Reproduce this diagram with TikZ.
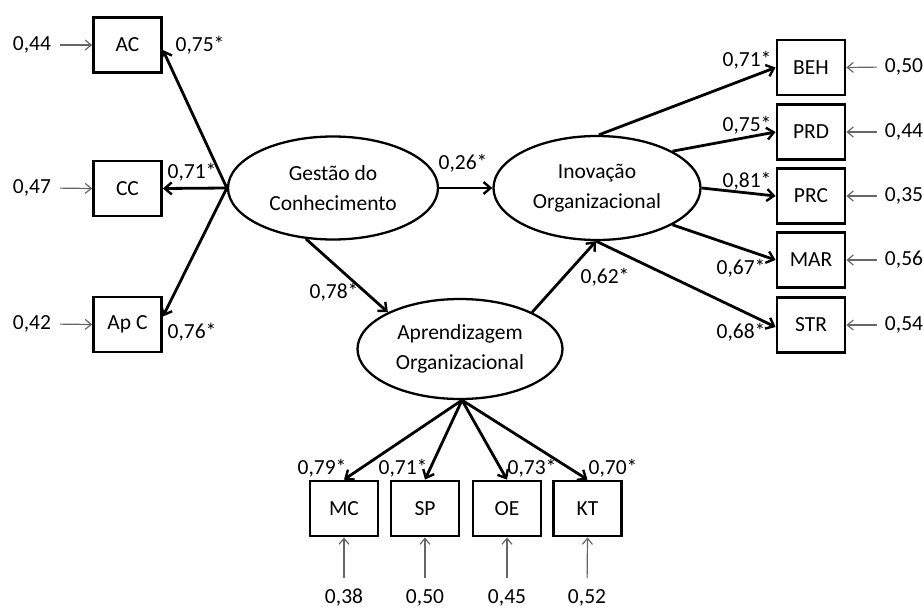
\documentclass[tikz,border=0pt]{standalone}
\usepackage{fontspec}
\setmainfont{Carlito}
\usetikzlibrary{shapes.geometric,arrows.meta}
\begin{document}
\begin{tikzpicture}[x=1pt,y=-1pt,
  font=\fontsize{21.5}{30}\selectfont,
  indicator/.style={draw,line width=2.8pt,minimum width=68pt,minimum height=55pt,inner sep=0pt},
  construct/.style={draw,ellipse,line width=2.3pt,inner sep=0pt,align=center},
  loading/.style={line width=2.8pt,-{Straight Barb[length=7pt,width=12pt,line width=2.4pt]}},
  residual/.style={line width=1.2pt,black!60,-{Straight Barb[length=6pt,width=10pt,line width=1.2pt]}},
  val/.style={inner sep=0pt,anchor=center}]
\useasboundingbox (0,0) rectangle (924,608);

% latent constructs
\node[construct,minimum width=210pt,minimum height=103pt] (gc) at (333,188) {Gestão do\\Conhecimento};
\node[construct,minimum width=207pt,minimum height=104pt] (io) at (597,188) {Inovação\\Organizacional};
\node[construct,minimum width=205pt,minimum height=100pt] (ap) at (460,349) {Aprendizagem\\Organizacional};

% indicators
\node[indicator] (ac) at (127.5,45) {AC};
\node[indicator] (cc) at (127.5,188.5) {CC};
\node[indicator] (apc) at (127.5,324.5) {Ap C};
\node[indicator] (beh) at (811,67.5) {BEH};
\node[indicator] (prd) at (811,132) {PRD};
\node[indicator] (prc) at (811,196) {PRC};
\node[indicator] (mar) at (811,260) {MAR};
\node[indicator] (str) at (811,325) {STR};
\node[indicator] (mc) at (344,508.5) {MC};
\node[indicator] (sp) at (425,508.5) {SP};
\node[indicator] (oe) at (507,508.5) {OE};
\node[indicator] (kt) at (587.5,508.5) {KT};

% residual values
\node[val] (eac) at (32,45) {0,44};
\node[val] (ecc) at (32,188) {0,47};
\node[val] (eapc) at (32,324) {0,42};
\node[val] (ebeh) at (904,67) {0,50};
\node[val] (eprd) at (904,132) {0,44};
\node[val] (eprc) at (904,196) {0,35};
\node[val] (emar) at (904,260) {0,56};
\node[val] (estr) at (904,325) {0,54};
\node[val] (emc) at (344,598) {0,38};
\node[val] (esp) at (425,598) {0,50};
\node[val] (eoe) at (507,598) {0,45};
\node[val] (ekt) at (587,598) {0,52};

\foreach \e/\b in {eac/ac,ecc/cc,eapc/apc}
  \draw[residual,shorten <=9pt] (\e.east) -- (\b.west);
\foreach \e/\b in {ebeh/beh,eprd/prd,eprc/prc,emar/mar,estr/str}
  \draw[residual,shorten <=8pt] (\e.west) -- (\b.east);
\foreach \e/\b in {emc/mc,esp/sp,eoe/oe,ekt/kt}
  \draw[residual,shorten <=11pt] (\e.north) -- (\b.south);

% structural paths
\draw[loading] (gc.east) -- (io.west);
\draw[loading] (gc.-118) -- (ap.153);
\draw[loading] (ap.27) -- (io.-91);

% measurement paths
\draw[loading] (gc.west) -- ([yshift=-5pt]ac.east);
\draw[loading] (gc.west) -- (cc.east);
\draw[loading] (gc.west) -- ([yshift=8pt]apc.east);
\draw[loading] (io.88) -- (beh.west);
\draw[loading] (io.26) -- (prd.west);
\draw[loading] (io.east) -- (prc.west);
\draw[loading] (io.-26) -- (mar.west);
\draw[loading] (io.-91) -- ([yshift=-2pt]str.west);
\foreach \b in {mc,sp,oe,kt}
  \draw[loading] ([xshift=2pt]ap.south) -- (\b.north);

% coefficients
\node[val] at (200,45) {0,75*};
\node[val] at (192,172) {0,71*};
\node[val] at (192,332) {0,76*};
\node[val] at (463,163) {0,26*};
\node[val] at (334,292) {0,78*};
\node[val] at (605,277) {0,62*};
\node[val] at (747,60) {0,71*};
\node[val] at (747,125) {0,75*};
\node[val] at (747,181) {0,81*};
\node[val] at (741,268) {0,67*};
\node[val] at (741,332) {0,68*};
\node[val] at (322,468) {0,79*};
\node[val] at (403,468) {0,71*};
\node[val] at (532,468) {0,73*};
\node[val] at (613,468) {0,70*};
\end{tikzpicture}
\end{document}
